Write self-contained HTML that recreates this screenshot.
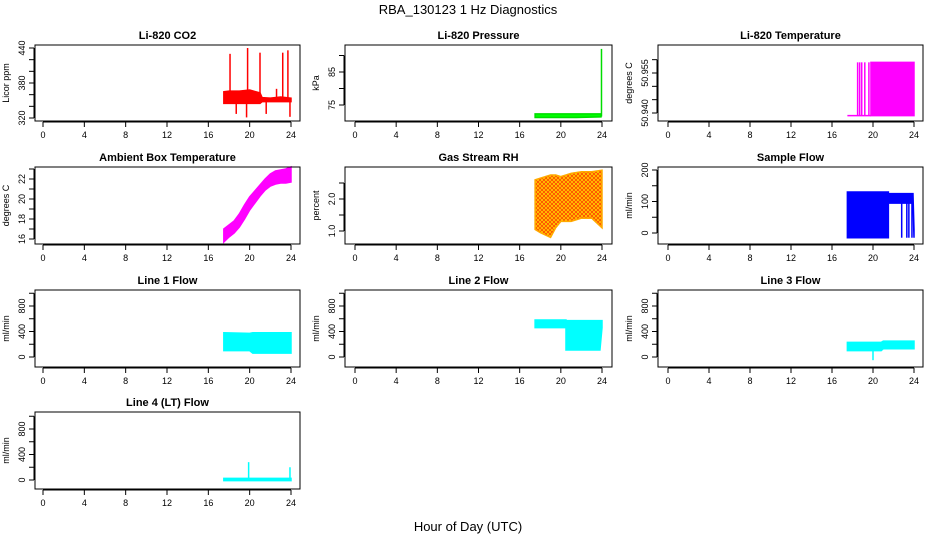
<!DOCTYPE html>
<html><head><meta charset="utf-8"><style>
html,body{margin:0;padding:0;background:#fff;}
svg{display:block;font-family:"Liberation Sans",sans-serif;}
</style></head><body>
<svg id="chart" width="936" height="540" xmlns="http://www.w3.org/2000/svg">
<defs>
<pattern id="rhpat" width="4" height="4" patternUnits="userSpaceOnUse">
<rect width="4" height="4" fill="#ffcc00"/>
<path d="M0,0 L4,4 M4,0 L0,4" stroke="#ff3300" stroke-width="0.7"/>
</pattern>
</defs>
<text x="468" y="14" text-anchor="middle" font-size="13">RBA_130123  1 Hz Diagnostics</text>
<text x="468" y="531" text-anchor="middle" font-size="13">Hour of Day (UTC)</text>
</svg>
<script>
// ---- data (hours of day, value envelopes) ----
const xTicks = [0,4,8,12,16,20,24];

const co2Hours = [17.5,18,19,20,21,21.2,22,23,24];
const co2Lo    = [345,345,345,345,345,348,348,348,348];
const co2Hi    = [365,366,366,368,363,355,354,356,354];
const co2SpikeHours = [18.1,19.8,21.0,23.2,23.7,18.7,19.7,21.6,23.9,22.6];
const co2SpikeVals  = [430,440,432,432,436,327,321,327,322,370];

const presHours = [17.5,20,21.5,23.9];
const presLo    = [71.2,71.2,71.2,71.4];
const presHi    = [72.3,72.3,72.3,72.3];
const presSpikeHours = [23.95];
const presSpikeVals  = [92];

const tempHours = [17.5,19.8];
const tempLo    = [50.939,50.939];
const tempHi    = [50.939,50.939];
const tempBlockHours = [19.8,24];
const tempBlockLo    = [50.939,50.939];
const tempBlockHi    = [50.959,50.959];
const tempSpikeHours = [18.5,18.7,18.9,19.2,19.6];
const tempSpikeVals  = [50.959,50.959,50.959,50.959,50.959];

const ambHours = [17.5,18,18.5,19,19.5,20,20.5,21,21.5,22,22.5,23,23.5,24];
const ambLo    = [15.7,16.2,16.6,17.2,18.0,18.9,19.6,20.3,20.9,21.3,21.5,21.6,21.6,21.7];
const ambHi    = [17.0,17.4,17.8,18.5,19.4,20.2,20.8,21.4,22.0,22.5,22.8,22.9,23.0,23.2];

const rhHours = [17.5,18,19,19.5,20,21,22,23,24];
const rhLo    = [1.05,0.95,0.8,1.1,1.3,1.3,1.4,1.4,1.1];
const rhHi    = [2.6,2.65,2.75,2.75,2.7,2.8,2.85,2.85,2.9];

const sfHours = [17.5,21.5,21.5,23.9,24];
const sfLo    = [-15,-15,95,95,-15];
const sfHi    = [130,130,125,125,10];
const sfSpikeHours = [22.8,23.3,23.5,23.8];
const sfSpikeVals  = [-15,-15,-15,-15];

const l1Hours = [17.5,20,20.3,24];
const l1Lo    = [100,100,60,60];
const l1Hi    = [380,370,380,380];

const l2Hours = [17.5,20.5,20.5,23.8,24];
const l2Lo    = [460,460,110,110,460];
const l2Hi    = [580,580,570,570,570];

const l3Hours = [17.5,20.8,21,24];
const l3Lo    = [100,100,130,130];
const l3Hi    = [230,230,250,250];
const l3SpikeHours = [20];
const l3SpikeVals  = [-50];

const l4Hours = [17.5,24];
const l4Lo    = [-10,-10];
const l4Hi    = [25,25];
const l4SpikeHours = [19.9,23.9];
const l4SpikeVals  = [280,200];

// ---- layout ----
const cols = [{x0:43,x24:291,l:35,r:300},{x0:355,x24:602,l:345,r:612},{x0:668,x24:914,l:658,r:923}];
const rows = [{t:45,b:121},{t:167,b:244},{t:290,b:367},{t:412,b:489}];
const svg = document.getElementById('chart');
const NS = 'http://www.w3.org/2000/svg';
function mk(tag, attrs, parent){const e=document.createElementNS(NS,tag);for(const k in attrs)e.setAttribute(k,attrs[k]);(parent||svg).appendChild(e);return e;}

function panel(p){
  const c=cols[p.col], r=rows[p.row];
  const g=mk('g',{});
  
  
  const xs=h=>c.x0+(c.x24-c.x0)*h/24;
  const ys=v=>p.py0+(p.py1-p.py0)*(v-p.v0)/(p.v1-p.v0);
  const t=mk('text',{x:(c.l+c.r)/2,y:r.t-6,'text-anchor':'middle','font-size':11,'font-weight':'bold'},g);
  t.textContent=p.title;
  
  
  const dg=mk('g',{},g);
  
  
  (p.bands||[]).forEach(b=>{
    let pts=b.h.map((h,i)=>xs(h)+','+ys(b.hi[i]));
    for(let i=b.h.length-1;i>=0;i--)pts.push(xs(b.h[i])+','+ys(b.lo[i]));
    const pg=mk('polygon',{points:pts.join(' '),fill:p.fill,stroke:p.color,'stroke-width':1.5},dg);
    
    
  });
  if(p.sh){p.sh.forEach((h,i)=>{
    const base=p.base!==undefined?p.base:(p.bands[0].lo[0]+p.bands[0].hi[0])/2;
    const ln=mk('line',{x1:xs(h),x2:xs(h),y1:ys(base),y2:ys(p.sv[i]),stroke:p.color,'stroke-width':1.5},dg);
    
    
  });}
  const bx=mk('rect',{x:c.l,y:r.t,width:c.r-c.l,height:r.b-r.t,fill:'none',stroke:'#000','stroke-width':1},g);
  
  
  const xa=mk('g',{},g);
  
  
  mk('line',{x1:xs(0),x2:xs(24),y1:r.b+1,y2:r.b+1,stroke:'#000'},xa);
  xTicks.forEach(v=>{
    mk('line',{x1:xs(v),x2:xs(v),y1:r.b+1,y2:r.b+6,stroke:'#000'},xa);
    const tx=mk('text',{x:xs(v),y:r.b+17,'text-anchor':'middle','font-size':9},xa);
    tx.textContent=v;
    
    
  });
  const ya=mk('g',{},g);
  
  
  const tk=p.ticks;
  mk('line',{x1:c.l-1,x2:c.l-1,y1:ys(tk[0]),y2:ys(tk[tk.length-1]),stroke:'#000'},ya);
  tk.forEach(v=>mk('line',{x1:c.l-1,x2:c.l-6,y1:ys(v),y2:ys(v),stroke:'#000'},ya));
  p.labels.forEach((lb,i)=>{
    const yy=ys(p.labelVals[i]);
    const tx=mk('text',{x:c.l-10,y:yy,'text-anchor':'middle','font-size':9,transform:`rotate(-90 ${c.l-10} ${yy})`},ya);
    tx.textContent=lb;
    
    
  });
  const my=(r.t+r.b)/2, ax=c.l-26;
  const yt=mk('text',{x:ax,y:my,'text-anchor':'middle','font-size':9,transform:`rotate(-90 ${ax} ${my})`},ya);
  yt.textContent=p.ylab;
  
  
}

const flowTicks=[0,200,400,600,800,1000];
panel({name:'co2',title:'Li-820 CO2',col:0,row:0,v0:320,v1:440,py0:118,py1:48,color:'#ff0000',fill:'#ff0000',
  ticks:[320,340,360,380,400,420,440],labels:['320','380','440'],labelVals:[320,380,440],ylab:'Licor ppm',
  bands:[{h:co2Hours,lo:co2Lo,hi:co2Hi}],sh:co2SpikeHours,sv:co2SpikeVals,base:350});
panel({name:'pressure',title:'Li-820 Pressure',col:1,row:0,v0:75,v1:85,py0:105,py1:72,color:'#00dd00',fill:'#00ff00',
  ticks:[75,80,85,90],labels:['75','85'],labelVals:[75,85],ylab:'kPa',
  bands:[{h:presHours,lo:presLo,hi:presHi}],sh:presSpikeHours,sv:presSpikeVals,base:71.5});
panel({name:'temperature',title:'Li-820 Temperature',col:2,row:0,v0:50.94,v1:50.955,py0:113,py1:73,color:'#ff00ff',fill:'#ff00ff',
  ticks:[50.94,50.945,50.95,50.955,50.96],labels:['50.940','50.955'],labelVals:[50.94,50.955],ylab:'degrees C',
  bands:[{h:tempHours,lo:tempLo,hi:tempHi},{h:tempBlockHours,lo:tempBlockLo,hi:tempBlockHi}],sh:tempSpikeHours,sv:tempSpikeVals,base:50.939});
panel({name:'ambient',title:'Ambient Box Temperature',col:0,row:1,v0:16,v1:22,py0:239,py1:179,color:'#ff00ff',fill:'#ff00ff',
  ticks:[16,17,18,19,20,21,22,23],labels:['16','18','20','22'],labelVals:[16,18,20,22],ylab:'degrees C',
  bands:[{h:ambHours,lo:ambLo,hi:ambHi}]});
panel({name:'rh',title:'Gas Stream RH',col:1,row:1,v0:1,v1:2,py0:231,py1:199,color:'#ffaa00',fill:'url(#rhpat)',
  ticks:[1,1.5,2,2.5],labels:['1.0','2.0'],labelVals:[1,2],ylab:'percent',
  bands:[{h:rhHours,lo:rhLo,hi:rhHi}]});
panel({name:'sample-flow',title:'Sample Flow',col:2,row:1,v0:0,v1:200,py0:233,py1:170,color:'#0000ff',fill:'#0000ff',
  ticks:[0,50,100,150,200],labels:['0','100','200'],labelVals:[0,100,200],ylab:'ml/min',
  bands:[{h:sfHours,lo:sfLo,hi:sfHi}],sh:sfSpikeHours,sv:sfSpikeVals,base:110});
panel({name:'line1',title:'Line 1 Flow',col:0,row:2,v0:0,v1:800,py0:357,py1:306,color:'#00ffff',fill:'#00ffff',
  ticks:flowTicks,labels:['0','400','800'],labelVals:[0,400,800],ylab:'ml/min',
  bands:[{h:l1Hours,lo:l1Lo,hi:l1Hi}]});
panel({name:'line2',title:'Line 2 Flow',col:1,row:2,v0:0,v1:800,py0:357,py1:306,color:'#00ffff',fill:'#00ffff',
  ticks:flowTicks,labels:['0','400','800'],labelVals:[0,400,800],ylab:'ml/min',
  bands:[{h:l2Hours,lo:l2Lo,hi:l2Hi}]});
panel({name:'line3',title:'Line 3 Flow',col:2,row:2,v0:0,v1:800,py0:357,py1:306,color:'#00ffff',fill:'#00ffff',
  ticks:flowTicks,labels:['0','400','800'],labelVals:[0,400,800],ylab:'ml/min',
  bands:[{h:l3Hours,lo:l3Lo,hi:l3Hi}],sh:l3SpikeHours,sv:l3SpikeVals,base:150});
panel({name:'line4',title:'Line 4 (LT) Flow',col:0,row:3,v0:0,v1:800,py0:480,py1:429,color:'#00ffff',fill:'#00ffff',
  ticks:flowTicks,labels:['0','400','800'],labelVals:[0,400,800],ylab:'ml/min',
  bands:[{h:l4Hours,lo:l4Lo,hi:l4Hi}],sh:l4SpikeHours,sv:l4SpikeVals,base:0});
</script>
</body></html>
